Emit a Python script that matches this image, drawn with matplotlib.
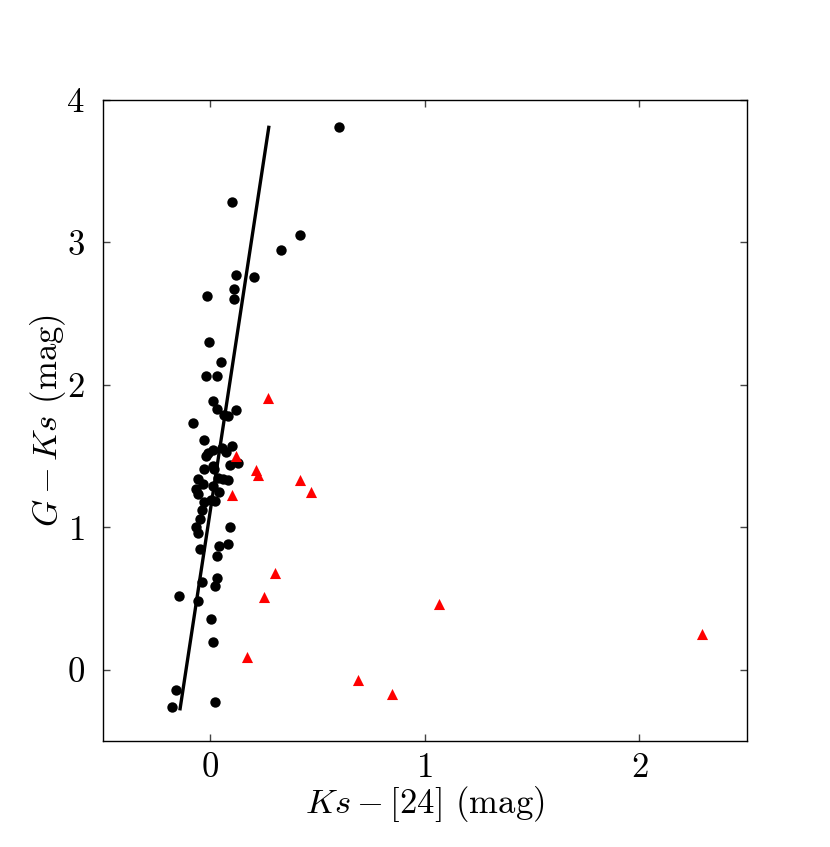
import matplotlib
matplotlib.use("Agg")
import matplotlib.pyplot as plt
import numpy as np

plt.rcParams['font.family'] = 'serif'
plt.rcParams['font.serif'] = ['cmr10']
plt.rcParams['mathtext.fontset'] = 'cm'
plt.rcParams['axes.formatter.use_mathtext'] = True

# Black circles: Ks-[24] vs G-Ks
black_x = [0.600, 0.102, 0.421, 0.331, 0.122, 0.203, 0.113, -0.015, 0.113, -0.006,
           0.053, -0.017, 0.034, 0.012, 0.034, 0.082, 0.065, 0.122, -0.077, -0.026,
           0.101, 0.054, 0.012, -0.011, 0.073, -0.019, 0.093, 0.133, -0.028, 0.016,
           0.019, 0.039, 0.082, 0.062, -0.054, -0.034, -0.065, 0.012, -0.057, 0.043,
           -0.026, 0.023, 0.003, -0.036, -0.046, -0.065, -0.057, 0.093, -0.046, 0.043,
           0.085, 0.034, -0.036, 0.032, 0.023, -0.145, -0.056, 0.003, 0.012, -0.156,
           -0.176, 0.023]
black_y = [3.81, 3.28, 3.05, 2.945, 2.77, 2.76, 2.67, 2.62, 2.60, 2.30,
           2.16, 2.06, 2.06, 1.89, 1.83, 1.78, 1.79, 1.82, 1.73, 1.61,
           1.57, 1.555, 1.54, 1.52, 1.53, 1.50, 1.44, 1.45, 1.41, 1.43,
           1.41, 1.345, 1.33, 1.34, 1.34, 1.305, 1.27, 1.29, 1.235, 1.245,
           1.18, 1.186, 1.19, 1.12, 1.06, 1.00, 0.96, 1.00, 0.85, 0.87,
           0.88, 0.80, 0.615, 0.643, 0.59, 0.52, 0.486, 0.36, 0.194, -0.14,
           -0.26, -0.227]

# Red triangles
red_x = [0.272, 0.121, 0.213, 0.223, 0.102, 0.421, 0.470, 0.302, 0.252, 0.172,
         1.067, 0.690, 0.849, 2.292]
red_y = [1.91, 1.50, 1.40, 1.37, 1.23, 1.333, 1.247, 0.68, 0.51, 0.087,
         0.463, -0.072, -0.168, 0.248]

# Fitted relation G-Ks = slope*(Ks-[24]) + intercept over a range
fit_slope = 9.88
fit_intercept = 1.10
fit_range = [-0.139, 0.274]

xticks = [0, 1, 2]
yticks = [0, 1, 2, 3, 4]

fig = plt.figure(figsize=(8.30, 8.47), dpi=100)
ax = fig.add_axes([0.1236, 0.1251, 0.776, 0.757])

fx = np.array(fit_range)
ax.plot(fx, fit_slope * fx + fit_intercept, color='black', lw=2.4, zorder=2)
ax.scatter(black_x, black_y, s=56, marker='o', color='black', zorder=3, linewidths=0)
ax.scatter(red_x, red_y, s=64, marker='^', color='red', zorder=3, linewidths=0)

ax.set_xlim(-0.5, 2.5)
ax.set_ylim(-0.5, 4.0)
ax.set_xticks(xticks)
ax.set_yticks(yticks)
ax.tick_params(direction='in', top=True, right=True, labelsize=25, length=5,
               width=1, color='#444444')
ax.tick_params(axis='x', pad=8)
ax.tick_params(axis='y', pad=13)
for sp in ax.spines.values():
    sp.set_linewidth(1.0)

ax.set_xlabel(r'$Ks - [24]$ (mag)', fontsize=25, labelpad=0)
ax.set_ylabel(r'$G - Ks$ (mag)', fontsize=25, labelpad=-1)

fig.savefig('out.png', dpi=100)
